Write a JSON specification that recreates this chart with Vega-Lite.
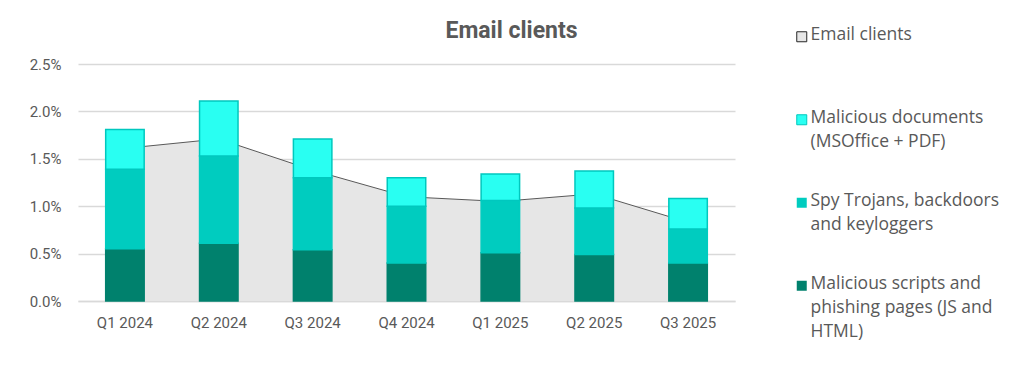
{
  "$schema": "https://vega.github.io/schema/vega-lite/v6.json",
  "autosize": "none",
  "width": 657,
  "height": 237,
  "padding": {"left": 78, "top": 64, "right": 289, "bottom": 66},
  "background": "white",
  "config": {"view": {"stroke": null}, "font": "Roboto"},
  "title": {"text": "Email clients", "font": "Roboto", "fontSize": 23, "fontWeight": "bold", "color": "#595959", "anchor": "middle", "frame": "group", "dx": 105, "offset": -15},
  "datasets": {
    "bars": [
      {"quarter": "Q1 2024", "series": "Malicious scripts and phishing pages (JS and HTML)", "value": 0.55},
      {"quarter": "Q1 2024", "series": "Spy Trojans, backdoors and keyloggers", "value": 0.84},
      {"quarter": "Q1 2024", "series": "Malicious documents (MSOffice + PDF)", "value": 0.42},
      {"quarter": "Q2 2024", "series": "Malicious scripts and phishing pages (JS and HTML)", "value": 0.61},
      {"quarter": "Q2 2024", "series": "Spy Trojans, backdoors and keyloggers", "value": 0.92},
      {"quarter": "Q2 2024", "series": "Malicious documents (MSOffice + PDF)", "value": 0.58},
      {"quarter": "Q3 2024", "series": "Malicious scripts and phishing pages (JS and HTML)", "value": 0.54},
      {"quarter": "Q3 2024", "series": "Spy Trojans, backdoors and keyloggers", "value": 0.76},
      {"quarter": "Q3 2024", "series": "Malicious documents (MSOffice + PDF)", "value": 0.41},
      {"quarter": "Q4 2024", "series": "Malicious scripts and phishing pages (JS and HTML)", "value": 0.40},
      {"quarter": "Q4 2024", "series": "Spy Trojans, backdoors and keyloggers", "value": 0.60},
      {"quarter": "Q4 2024", "series": "Malicious documents (MSOffice + PDF)", "value": 0.30},
      {"quarter": "Q1 2025", "series": "Malicious scripts and phishing pages (JS and HTML)", "value": 0.51},
      {"quarter": "Q1 2025", "series": "Spy Trojans, backdoors and keyloggers", "value": 0.55},
      {"quarter": "Q1 2025", "series": "Malicious documents (MSOffice + PDF)", "value": 0.28},
      {"quarter": "Q2 2025", "series": "Malicious scripts and phishing pages (JS and HTML)", "value": 0.49},
      {"quarter": "Q2 2025", "series": "Spy Trojans, backdoors and keyloggers", "value": 0.49},
      {"quarter": "Q2 2025", "series": "Malicious documents (MSOffice + PDF)", "value": 0.39},
      {"quarter": "Q3 2025", "series": "Malicious scripts and phishing pages (JS and HTML)", "value": 0.40},
      {"quarter": "Q3 2025", "series": "Spy Trojans, backdoors and keyloggers", "value": 0.36},
      {"quarter": "Q3 2025", "series": "Malicious documents (MSOffice + PDF)", "value": 0.32}
    ],
    "area": [
      {"quarter": "Q1 2024", "series": "Email clients", "value": 1.61},
      {"quarter": "Q2 2024", "series": "Email clients", "value": 1.71},
      {"quarter": "Q3 2024", "series": "Email clients", "value": 1.38},
      {"quarter": "Q4 2024", "series": "Email clients", "value": 1.10},
      {"quarter": "Q1 2025", "series": "Email clients", "value": 1.05},
      {"quarter": "Q2 2025", "series": "Email clients", "value": 1.13},
      {"quarter": "Q3 2025", "series": "Email clients", "value": 0.83}
    ]
  },
  "encoding": {
    "x": {
      "field": "quarter", "type": "ordinal", "sort": null, "title": null,
      "scale": {"paddingInner": 0.59, "paddingOuter": 0.295},
      "axis": {"labelAngle": 0, "labelFont": "Roboto", "labelFontSize": 15, "labelColor": "#595959", "labelPadding": 14, "ticks": false, "domainColor": "#d9d9d9", "domainWidth": 1.5}
    },
    "y": {
      "field": "value", "type": "quantitative", "title": null,
      "scale": {"domain": [0, 2.5], "nice": false},
      "axis": {"values": [0, 0.5, 1, 1.5, 2, 2.5], "labelExpr": "format(datum.value, '.1f') + '%'", "labelFont": "Roboto", "labelFontSize": 15, "labelColor": "#595959", "labelPadding": 17, "ticks": false, "domain": false, "gridColor": "#d9d9d9", "gridWidth": 1.5}
    }
  },
  "layer": [
    {
      "data": {"name": "area"},
      "mark": {"type": "area", "opacity": 1, "strokeWidth": 0},
      "encoding": {
        "x": {"field": "quarter", "type": "ordinal", "sort": null, "bandPosition": 0.5},
        "color": {"field": "series", "type": "nominal"}
      }
    },
    {
      "data": {"name": "area"},
      "mark": {"type": "line", "color": "#595959", "strokeWidth": 1},
      "encoding": {
        "x": {"field": "quarter", "type": "ordinal", "sort": null, "bandPosition": 0.5}
      }
    },
    {
      "data": {"name": "bars"},
      "transform": [
        {"calculate": "indexof(['Malicious scripts and phishing pages (JS and HTML)', 'Spy Trojans, backdoors and keyloggers', 'Malicious documents (MSOffice + PDF)'], datum.series)", "as": "stackRank"}
      ],
      "mark": {"type": "bar", "strokeWidth": 1.5},
      "encoding": {
        "order": {"field": "stackRank", "type": "quantitative", "sort": "ascending"},
        "color": {
          "field": "series", "type": "nominal",
          "scale": {
            "domain": ["Email clients", "Malicious documents (MSOffice + PDF)", "Spy Trojans, backdoors and keyloggers", "Malicious scripts and phishing pages (JS and HTML)"],
            "range": ["#e6e6e6", "#29fff2", "#00ccbf", "#00816d"]
          },
          "legend": {
            "orient": "none", "legendX": 715, "legendY": -36, "title": null,
            "symbolType": "square", "symbolSize": 100, "symbolOpacity": 1,
            "labelFont": "Open Sans", "labelFontSize": 17.5, "labelColor": "#595959", "labelBaseline": "top", "labelOffset": 0, "labelLimit": 300,
            "rowPadding": 16,
            "values": ["Email clients", "Malicious documents (MSOffice + PDF)", "Spy Trojans, backdoors and keyloggers", "Malicious scripts and phishing pages (JS and HTML)"],
            "labelExpr": "datum.label == 'Email clients' ? ['Email clients', '', ''] : datum.label == 'Malicious documents (MSOffice + PDF)' ? ['Malicious documents', '(MSOffice + PDF)', ''] : datum.label == 'Spy Trojans, backdoors and keyloggers' ? ['Spy Trojans, backdoors', 'and keyloggers', ''] : ['Malicious scripts and', 'phishing pages (JS and', 'HTML)']",
            "encode": {
              "labels": {"update": {"lineHeight": {"value": 24}, "dy": {"value": -11}}},
              "symbols": {"update": {"stroke": {"signal": "datum.value == 'Email clients' ? '#262626' : datum.value == 'Malicious documents (MSOffice + PDF)' ? '#00c8be' : 'transparent'"}, "strokeWidth": {"value": 1}}}
            }
          }
        },
        "stroke": {
          "field": "series", "type": "nominal", "legend": null,
          "scale": {
            "domain": ["Malicious documents (MSOffice + PDF)", "Spy Trojans, backdoors and keyloggers", "Malicious scripts and phishing pages (JS and HTML)"],
            "range": ["#00c8be", "#00ccbf", "#00816d"]
          }
        }
      }
    }
  ]
}
